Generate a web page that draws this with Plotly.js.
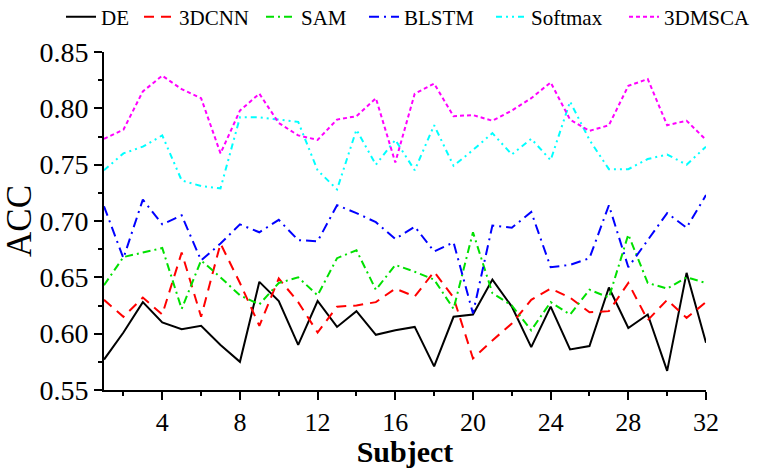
<!DOCTYPE html>
<html>
<head>
<meta charset="utf-8">
<script src="https://cdn.plot.ly/plotly-3.0.1.min.js"></script>
<style>html,body{margin:0;padding:0;background:#fff;}#chart{width:760px;height:468px;}</style>
</head>
<body>
<div id="chart"></div>
<script>
var subjects = [1,2,3,4,5,6,7,8,9,10,11,12,13,14,15,16,17,18,19,20,21,22,23,24,25,26,27,28,29,30,31,32];
var seriesNames = ["DE","3DCNN","SAM","BLSTM","Softmax","3DMSCA"];
var accDE = [0.577,0.601,0.628,0.610,0.604,0.607,0.590,0.575,0.646,0.629,0.590,0.629,0.606,0.620,0.599,0.603,0.606,0.571,0.615,0.617,0.648,0.624,0.588,0.624,0.586,0.589,0.641,0.605,0.617,0.567,0.654,0.592];
var acc3DCNN = [0.630,0.615,0.632,0.617,0.672,0.615,0.680,0.645,0.607,0.649,0.628,0.601,0.624,0.625,0.628,0.640,0.633,0.655,0.632,0.578,0.594,0.609,0.630,0.640,0.632,0.619,0.620,0.645,0.612,0.630,0.614,0.628];
var accSAM = [0.643,0.668,0.672,0.676,0.622,0.665,0.650,0.634,0.626,0.645,0.650,0.634,0.667,0.674,0.639,0.661,0.655,0.648,0.622,0.690,0.636,0.625,0.603,0.628,0.617,0.639,0.632,0.688,0.645,0.640,0.650,0.645];
var accBLSTM = [0.713,0.667,0.719,0.697,0.705,0.665,0.680,0.697,0.690,0.701,0.683,0.682,0.714,0.707,0.699,0.684,0.695,0.673,0.681,0.618,0.696,0.694,0.708,0.659,0.661,0.667,0.714,0.659,0.683,0.707,0.694,0.723];
var accSoftmax = [0.745,0.760,0.766,0.776,0.736,0.731,0.729,0.792,0.792,0.790,0.788,0.745,0.728,0.781,0.750,0.772,0.745,0.785,0.749,0.763,0.778,0.759,0.773,0.754,0.806,0.772,0.746,0.746,0.755,0.759,0.750,0.766];
var acc3DMSCA = [0.773,0.781,0.815,0.829,0.817,0.809,0.760,0.798,0.813,0.787,0.776,0.772,0.790,0.793,0.809,0.752,0.813,0.822,0.793,0.794,0.789,0.798,0.809,0.823,0.790,0.780,0.785,0.820,0.826,0.785,0.789,0.772];

var values = [accDE, acc3DCNN, accSAM, accBLSTM, accSoftmax, acc3DMSCA];
var colors = ["#000000","#FF0000","#00E000","#0000FF","#00FFFF","#FF00FF"];
var dashes = ["solid","10px,7px","8px,4px,2px,4px","10px,5px,2px,5px","6px,4px,2px,4px,2px,4px","4px,3px"];
var legendWidths = [33,77,58,82,88,82];

var traces = seriesNames.map(function(name,i){
  return {
    x: subjects, y: values[i], name: name, type: 'scatter', mode: 'lines',
    line: {color: colors[i], width: 2, dash: dashes[i]},
    legendwidth: legendWidths[i]
  };
});

var font = "'Liberation Serif', serif";
var layout = {
  width: 760, height: 468,
  margin: {l: 104, r: 54, t: 52, b: 78, autoexpand: false},
  paper_bgcolor: '#fff', plot_bgcolor: '#fff',
  font: {family: font, color: '#000', size: 22},
  showlegend: true,
  legend: {
    orientation: 'h', xref: 'paper', yref: 'paper',
    x: (61 - 104) / 602, xanchor: 'left', y: 1 + 35 / 338, yanchor: 'middle',
    font: {family: font, size: 21, color: '#000'},
    bgcolor: 'rgba(0,0,0,0)', borderwidth: 0, tracegroupgap: 0
  },
  xaxis: {
    range: [1, 32], tick0: 0, dtick: 4, ticks: 'outside', ticklen: 8, tickwidth: 2, tickcolor: '#000',
    showline: true, linecolor: '#000', linewidth: 2, showgrid: false, zeroline: false,
    minor: {tick0: 0, dtick: 2, ticks: 'outside', ticklen: 4, tickwidth: 2, tickcolor: '#000', showgrid: false},
    tickfont: {family: font, size: 26, color: '#000'},
    ticklabelstandoff: 0,
    title: {text: 'Subject', font: {family: font, size: 30, color: '#000', weight: 'bold'}, standoff: 4}
  },
  yaxis: {
    range: [0.55, 0.85], tick0: 0.55, dtick: 0.05, tickformat: '.2f', ticks: 'outside', ticklen: 8, tickwidth: 2, tickcolor: '#000',
    showline: true, linecolor: '#000', linewidth: 2, showgrid: false, zeroline: false,
    minor: {dtick: 0.025, ticks: 'outside', ticklen: 4, tickwidth: 2, tickcolor: '#000', showgrid: false},
    tickfont: {family: font, size: 28, color: '#000'},
    title: {text: 'ACC', font: {family: font, size: 35, color: '#000'}, standoff: 0}
  }
};

Plotly.newPlot('chart', traces, layout, {staticPlot: true, displayModeBar: false});
</script>
</body>
</html>
